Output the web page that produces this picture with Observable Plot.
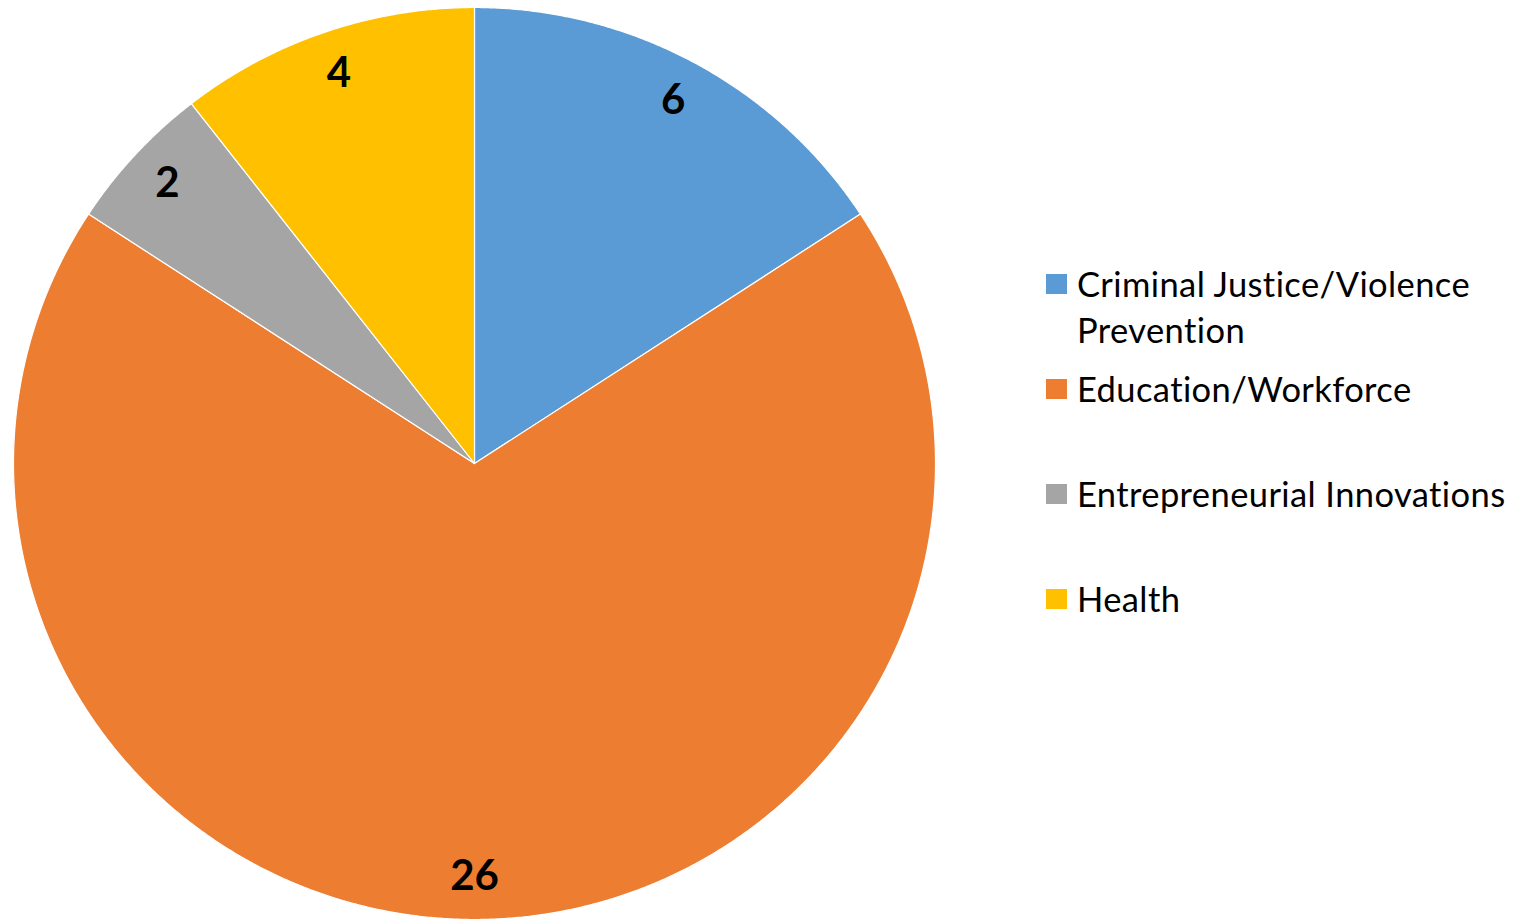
<!DOCTYPE html>
<html>
<head>
<meta charset="utf-8">
<script src="https://cdn.jsdelivr.net/npm/d3@7"></script>
<script src="https://cdn.jsdelivr.net/npm/@observablehq/plot@0.6"></script>
<style>
  html, body { margin: 0; padding: 0; background: #fff; }
  #wrap { position: relative; width: 1521px; height: 919px; overflow: hidden; }
  .legend { position: absolute; left: 0; top: 0; font-family: Lato, "Open Sans", sans-serif; font-size: 34.5px; letter-spacing: 0.4px; color: #000; }
  .item { position: absolute; left: 1046px; white-space: nowrap; }
  .sw { position: absolute; left: 0; width: 21px; height: 20px; }
  .lbl { position: absolute; left: 31px; line-height: 46px; }
</style>
</head>
<body>
<div id="wrap"></div>
<script>
const categories = ["Criminal Justice/Violence Prevention", "Education/Workforce", "Entrepreneurial Innovations", "Health"];
const values = [6, 26, 2, 4];
const colors = ["#5B9BD5", "#ED7D31", "#A5A5A5", "#FFC000"];
const legendLines = [["Criminal Justice/Violence", "Prevention"], ["Education/Workforce"], ["Entrepreneurial Innovations"], ["Health"]];

const W = 1521, H = 919;

// pie geometry from values (clockwise from 12 o'clock)
const arcs = d3.pie().sort(null).value(d => d.value)(categories.map((c, i) => ({cat: c, value: values[i]})));
const slicePts = [];
for (const a of arcs) {
  const n = Math.max(8, Math.ceil((a.endAngle - a.startAngle) / 0.005));
  slicePts.push({cat: a.data.cat, x: 0, y: 0});
  for (let k = 0; k <= n; k++) {
    const t = a.startAngle + (a.endAngle - a.startAngle) * k / n;
    slicePts.push({cat: a.data.cat, x: Math.sin(t), y: Math.cos(t)});
  }
  slicePts.push({cat: a.data.cat, x: 0, y: 0});
}
const labelR = 0.905;
const labels = arcs.map(a => {
  const m = (a.startAngle + a.endAngle) / 2;
  return {x: labelR * Math.sin(m), y: labelR * Math.cos(m), text: String(a.data.value)};
});

const chart = Plot.plot({
  width: W,
  height: H,
  marginLeft: 13,
  marginRight: W - 935,
  marginTop: 7,
  marginBottom: 0,
  x: {domain: [-1, 1], axis: null},
  y: {domain: [-1, 1], axis: null},
  color: {domain: categories, range: colors},
  style: {background: "white"},
  marks: [
    Plot.line(slicePts, {x: "x", y: "y", z: "cat", fill: "cat", stroke: "white", strokeWidth: 1.2, strokeLinejoin: "round"}),
    Plot.text(labels, {x: "x", y: "y", text: "text", fontSize: 42, fontWeight: "bold", fill: "black", fontFamily: "Lato, 'Open Sans', sans-serif"})
  ]
});

const wrap = document.getElementById("wrap");
wrap.appendChild(chart);

// legend (HTML overlay)
const legend = document.createElement("div");
legend.className = "legend";
const tops = [261, 366, 471, 576];
categories.forEach((c, i) => {
  const item = document.createElement("div");
  item.className = "item";
  item.style.top = tops[i] + "px";
  const sw = document.createElement("div");
  sw.className = "sw";
  sw.style.background = colors[i];
  sw.style.top = "13px";
  item.appendChild(sw);
  const lbl = document.createElement("div");
  lbl.className = "lbl";
  lbl.innerHTML = legendLines[i].join("<br>");
  item.appendChild(lbl);
  legend.appendChild(item);
});
wrap.appendChild(legend);
</script>
</body>
</html>
